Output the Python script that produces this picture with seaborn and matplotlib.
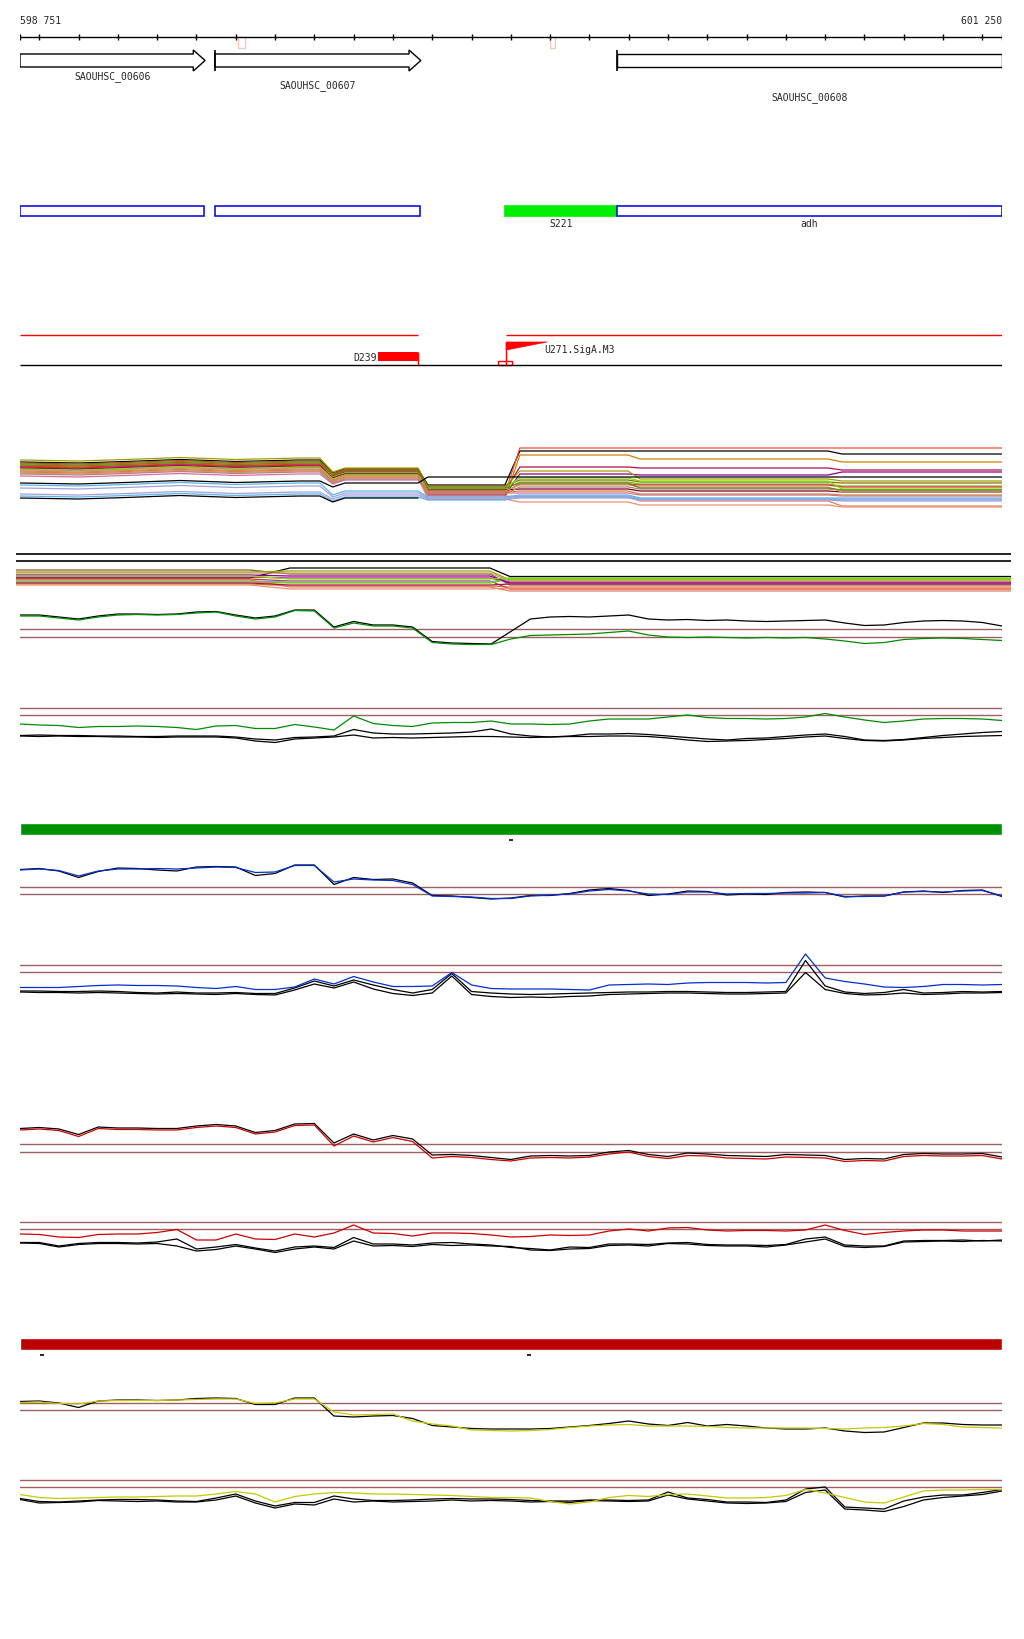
import numpy as np
import pandas as pd
import matplotlib
matplotlib.use('Agg')
import matplotlib.pyplot as plt
from matplotlib.patches import Polygon, Rectangle
import seaborn as sns

sns.set_style('white')
plt.rcParams['font.family'] = ['DejaVu Sans Mono']

W, H = 1024, 1640
START, END = 598751, 601250

# probe grid (every 50 bp)
grid_bp = [START] + list(range(598800, 601250, 50)) + [END]

# genes
gene_names = ['SAOUHSC_00606', 'SAOUHSC_00607', 'SAOUHSC_00608']
gene_start = [598751, 599247, 600270]
gene_end = [599222, 599771, 601250]
gene_arrow = [True, True, False]
gene_bar = [False, True, True]
gene_label_y = [76.5, 85.5, 98]

# annotation boxes
annot_names = ['', '', 'S221', 'adh']
annot_start = [598751, 599247, 599986, 600269]
annot_end = [599219, 599769, 600269, 601250]
annot_fill = ['white', 'white', '#00ee00', 'white']
annot_edge = ['#1010e0', '#1010e0', '#00ee00', '#1010e0']

# small markers on the ruler
marker_start = [599306, 600100]
marker_end = [599324, 600112]

# TSS / promoter track
tss_lines = [(598751, 599764), (599988, 601255)]
d239 = (599662, 599764)
u271 = (599988, 600092)

# ---- bundle 1 (many conditions) ----
b1_knots = [598751, 598900, 599020, 599158, 599300, 599463, 599514, 599547, 599578, 599764, 599789,
            599985, 600023, 600298, 600329, 600807, 600843, 601250]
b1_wiggle = [0.0, -0.2, 0.1, 0.5, 0.1, 0.4, 0.4, -0.8, 0.0, 0.0, 0.0, 0.0, 0.0, 0.0, 0.0, 0.0, 0.0, 0.0]
b1_colors = ['black', '#f05030', '#d08000', '#b0104a', '#900090', '#a0a000',
             '#66cc00', '#8b6914', '#e03030', '#e08060', '#f09070', '#5ab4e8',
             '#a0a0e0', '#5ab4e8', '#a0a0e0', '#d070a0', '#800020', '#b08080',
             '#80e000', '#c0a060', '#708020', '#cd853f', 'black', 'black']
# levels: left, mid, low, right1, right2, right3
b1_levels = [
    [10.4, 9.0, 5.8, 12.6, 12.6, 12.0],
    [10.0, 8.8, 4.0, 13.2, 13.2, 13.2],
    [9.6, 8.6, 3.0, 11.8, 11.0, 10.4],
    [9.4, 8.4, 4.6, 9.4, 9.2, 8.8],
    [9.2, 8.0, 3.8, 8.0, 7.8, 8.4],
    [10.8, 9.2, 5.4, 8.6, 7.0, 6.6],
    [9.8, 8.2, 5.0, 6.4, 6.0, 5.6],
    [10.2, 8.9, 5.6, 6.8, 6.4, 6.2],
    [9.5, 8.7, 4.4, 6.0, 5.8, 5.4],
    [8.6, 7.6, 3.6, 3.4, 2.6, 1.6],
    [8.2, 7.2, 3.0, 2.4, 1.8, 1.4],
    [5.8, 4.6, 3.4, 3.8, 3.2, 3.2],
    [5.2, 4.2, 3.2, 3.6, 3.0, 3.0],
    [3.6, 3.4, 2.8, 3.4, 3.0, 2.8],
    [4.0, 3.8, 3.0, 3.2, 2.8, 2.6],
    [7.6, 6.8, 4.2, 4.2, 3.8, 3.6],
    [9.0, 8.0, 4.8, 5.0, 4.6, 4.4],
    [8.0, 7.0, 4.0, 5.4, 5.0, 4.8],
    [9.0, 7.8, 5.2, 7.2, 6.6, 5.0],
    [8.8, 7.8, 4.6, 5.8, 5.4, 4.4],
    [9.8, 8.6, 5.2, 6.2, 5.2, 4.8],
    [8.4, 7.4, 4.4, 4.6, 4.0, 3.8],
    [6.2, 6.2, 7.4, 7.4, 7.4, 7.4],
    [3.2, 3.2, np.nan, np.nan, np.nan, np.nan],
]

# ---- bundle 2 ----
b2_knots = [598741, 599260, 599336, 599438, 599540, 599769, 599947, 599998, 601273]
b2_colors = ['#8b5a2b', 'black', '#a0a000', '#cd853f', '#e03030', '#c000a0',
             '#5ab4e8', '#66cc00', '#e08060', '#900090', '#80e000', '#c0a060',
             '#b0104a', '#f09070']
b2_levels = [
    [5.8, 5.0, 2.8], [4.2, 6.2, 4.5], [5.4, 5.6, 3.8], [3.0, 2.6, 2.4],
    [4.0, 3.6, 2.0], [4.4, 4.2, 3.4], [3.6, 3.4, 4.2], [3.4, 3.2, 4.0],
    [3.8, 2.4, 1.6], [4.8, 4.6, 3.2], [4.6, 4.0, 4.2], [5.2, 5.2, 3.6],
    [3.2, 2.8, 3.0], [2.8, 2.0, 2.2],
]
b2_black_lines = [9.0, 7.6]

# ---- profile tracks ----
t4_black = [6.8, 6.8, 6.4, 6.0, 6.6, 7.0, 7.0, 6.9, 7.0, 7.4, 7.5, 6.8, 6.2, 6.6, 7.8, 7.8, 4.4, 5.5, 4.8, 4.8,
            4.4, 1.5, 1.2, 1.1, 1.0, 3.5, 6.0, 6.4, 6.5, 6.4, 6.6, 6.8, 6.0, 5.8, 5.9, 5.7, 5.8, 5.6, 5.5, 5.6,
            5.7, 5.8, 5.2, 4.7, 4.8, 5.3, 5.6, 5.7, 5.6, 5.3, 4.6]
t4_green = [6.6, 6.6, 6.2, 5.8, 6.4, 6.8, 6.9, 6.8, 6.9, 7.2, 7.4, 6.6, 6.0, 6.4, 7.7, 7.6, 4.2, 5.2, 4.6, 4.6,
            4.2, 1.3, 1.0, 0.9, 0.9, 2.0, 2.7, 2.8, 2.9, 3.0, 3.3, 3.6, 2.8, 2.4, 2.3, 2.4, 2.3, 2.2, 2.3, 2.2,
            2.3, 2.0, 1.6, 1.1, 1.3, 1.9, 2.1, 2.2, 2.1, 1.9, 1.7]
t4_thresh = [4.0, 2.5]

t5_green = [5.0, 4.8, 4.7, 4.3, 4.5, 4.5, 4.6, 4.5, 4.3, 3.9, 4.6, 4.7, 4.1, 4.1, 4.9, 4.4, 3.8, 6.6, 5.1, 4.7,
            4.5, 5.2, 5.3, 5.3, 5.6, 5.0, 5.0, 4.9, 5.0, 5.6, 6.0, 6.0, 6.0, 6.4, 6.8, 6.3, 6.1, 6.1, 6.0, 6.1,
            6.4, 7.1, 6.4, 5.8, 5.3, 5.6, 6.0, 6.1, 6.1, 6.0, 5.7]
t5_black_a = [2.7, 2.8, 2.7, 2.7, 2.6, 2.6, 2.5, 2.5, 2.6, 2.6, 2.6, 2.4, 2.0, 1.8, 2.3, 2.4, 2.6, 3.9, 3.2, 3.0,
              3.0, 3.1, 3.2, 3.4, 4.0, 3.0, 2.6, 2.4, 2.6, 3.0, 3.0, 3.1, 2.9, 2.6, 2.3, 2.0, 1.8, 2.1, 2.2, 2.5,
              2.8, 3.0, 2.5, 1.8, 1.7, 1.9, 2.3, 2.7, 3.0, 3.3, 3.5]
t5_black_b = [2.6, 2.5, 2.6, 2.5, 2.5, 2.4, 2.4, 2.3, 2.4, 2.4, 2.4, 2.2, 1.6, 1.3, 2.0, 2.2, 2.4, 2.8, 2.2, 2.3,
              2.2, 2.3, 2.4, 2.5, 2.5, 2.4, 2.3, 2.4, 2.5, 2.5, 2.6, 2.6, 2.5, 2.2, 1.8, 1.5, 1.6, 1.7, 1.9, 2.1,
              2.4, 2.6, 2.1, 1.7, 1.6, 1.8, 2.1, 2.3, 2.5, 2.6, 2.7]
t5_thresh = [8.3, 6.9]

t7_blue = [6.8, 7.0, 6.7, 5.6, 6.6, 7.0, 7.0, 7.1, 7.0, 7.2, 7.4, 7.3, 6.3, 6.4, 7.7, 7.7, 4.4, 5.0, 4.8, 4.7,
           3.9, 1.6, 1.5, 1.4, 1.1, 1.1, 1.6, 1.8, 2.0, 2.6, 2.9, 2.6, 2.0, 1.9, 2.4, 2.4, 2.0, 2.1, 2.1, 2.2,
           2.2, 2.3, 1.5, 1.5, 1.6, 2.4, 2.5, 2.4, 2.6, 2.7, 1.6]
t7_black = [6.9, 7.1, 6.6, 5.3, 6.5, 7.2, 7.1, 6.8, 6.6, 7.4, 7.5, 7.4, 5.7, 6.1, 7.8, 7.8, 3.9, 5.3, 4.9, 5.0,
            4.2, 1.7, 1.6, 1.3, 1.0, 1.2, 1.7, 1.7, 2.1, 2.8, 3.1, 2.7, 1.7, 2.0, 2.6, 2.5, 1.8, 2.0, 1.9, 2.3,
            2.4, 2.3, 1.4, 1.6, 1.6, 2.4, 2.6, 2.3, 2.7, 2.8, 1.5]
t7_thresh = [3.4, 2.0]

t8_blue = [2.3, 2.3, 2.3, 2.5, 2.7, 2.8, 2.7, 2.7, 2.6, 2.3, 2.1, 2.5, 1.9, 1.9, 2.4, 4.0, 3.0, 4.5, 3.4, 2.5,
           2.5, 2.6, 5.3, 2.8, 2.1, 2.0, 2.0, 2.0, 1.9, 1.8, 2.8, 2.9, 3.0, 2.9, 3.2, 3.3, 3.3, 3.3, 3.2, 3.3,
           9.0, 4.2, 3.5, 3.0, 2.4, 2.3, 2.5, 2.9, 2.9, 2.8, 2.9]
t8_black_a = [1.6, 1.6, 1.5, 1.5, 1.6, 1.5, 1.3, 1.2, 1.4, 1.2, 1.2, 1.3, 1.1, 1.1, 2.2, 3.6, 2.6, 3.8, 2.8, 1.9,
              1.2, 1.9, 5.1, 1.5, 1.2, 1.0, 0.9, 1.0, 1.1, 1.2, 1.3, 1.4, 1.4, 1.5, 1.5, 1.4, 1.3, 1.3, 1.4, 1.5,
              7.7, 2.6, 1.4, 1.1, 1.3, 1.9, 1.2, 1.3, 1.5, 1.4, 1.5]
t8_black_b = [1.4, 1.3, 1.3, 1.2, 1.3, 1.2, 1.1, 1.0, 1.1, 1.0, 0.9, 1.1, 0.9, 0.8, 1.8, 3.0, 2.2, 3.4, 2.0, 1.1,
              0.7, 1.2, 4.6, 0.9, 0.5, 0.3, 0.4, 0.3, 0.5, 0.6, 0.9, 1.0, 1.1, 1.2, 1.2, 1.1, 1.0, 1.0, 1.1, 1.2,
              5.3, 1.9, 1.1, 0.8, 0.9, 1.2, 0.9, 1.0, 1.2, 1.2, 1.3]
t8_thresh = [6.9, 5.5]

t9_black = [7.1, 7.3, 7.0, 5.9, 7.4, 7.2, 7.2, 7.1, 7.1, 7.6, 7.9, 7.6, 6.3, 6.7, 8.0, 8.1, 4.2, 6.0, 4.8, 5.7,
            5.0, 1.8, 1.9, 1.7, 1.3, 0.9, 1.6, 1.7, 1.6, 1.7, 2.4, 2.7, 1.9, 1.5, 2.2, 2.0, 1.7, 1.6, 1.5, 1.9,
            1.8, 1.7, 0.9, 1.1, 1.0, 1.9, 2.1, 2.0, 2.0, 2.1, 1.4]
t9_red = [6.8, 7.0, 6.7, 5.5, 7.1, 6.9, 6.9, 6.8, 6.8, 7.3, 7.6, 7.3, 6.0, 6.4, 7.7, 7.8, 3.6, 5.6, 4.4, 5.3,
          4.5, 1.2, 1.5, 1.3, 0.9, 0.6, 1.2, 1.3, 1.2, 1.4, 2.0, 2.4, 1.5, 1.1, 1.7, 1.6, 1.2, 1.1, 1.0, 1.4,
          1.3, 1.2, 0.5, 0.7, 0.6, 1.5, 1.7, 1.6, 1.6, 1.7, 1.0]
t9_thresh = [4.0, 2.5]

t10_red = [6.0, 5.9, 5.4, 5.3, 5.9, 6.0, 6.0, 6.3, 6.9, 4.8, 4.8, 6.0, 5.0, 4.9, 6.0, 5.4, 6.2, 7.8, 6.2, 6.1,
           5.6, 6.2, 6.2, 6.1, 5.8, 5.4, 5.5, 5.8, 5.7, 5.8, 6.6, 7.0, 6.6, 7.2, 7.3, 6.8, 6.6, 6.7, 6.7, 6.6,
           6.8, 7.8, 6.7, 5.9, 6.3, 6.6, 6.8, 6.8, 6.6, 6.6, 6.6]
t10_black_a = [4.3, 4.3, 3.6, 4.1, 4.3, 4.3, 4.2, 4.4, 5.0, 3.0, 3.4, 3.9, 3.2, 2.6, 3.4, 3.6, 3.3, 5.3, 4.0, 4.0,
               3.8, 4.2, 4.3, 4.0, 3.8, 3.3, 3.1, 2.8, 3.4, 3.3, 4.0, 4.0, 3.9, 4.2, 4.3, 3.9, 3.8, 3.8, 3.7, 3.9,
               5.0, 5.4, 3.8, 3.6, 3.6, 4.6, 4.7, 4.7, 4.8, 4.6, 4.8]
t10_black_b = [4.2, 4.1, 3.4, 3.9, 4.1, 4.1, 4.0, 4.1, 3.6, 2.6, 2.9, 3.6, 3.0, 2.3, 3.0, 3.4, 3.0, 4.6, 3.6, 3.7,
               3.5, 3.9, 3.7, 3.8, 3.6, 3.5, 2.8, 2.7, 3.0, 3.1, 3.7, 3.8, 3.6, 4.1, 4.0, 3.7, 3.6, 3.6, 3.4, 3.8,
               4.4, 5.0, 3.5, 3.3, 3.5, 4.4, 4.5, 4.6, 4.5, 4.7, 4.6]
t10_thresh = [8.5, 7.1]

t12_black = [7.5, 7.6, 7.2, 6.3, 7.6, 7.8, 7.8, 7.7, 7.8, 8.1, 8.2, 8.1, 6.9, 6.9, 8.2, 8.2, 4.6, 4.4, 4.6, 4.7,
             4.1, 2.7, 2.4, 2.1, 2.0, 2.0, 2.0, 2.1, 2.4, 2.7, 3.1, 3.6, 3.0, 2.7, 3.3, 2.6, 2.9, 2.6, 2.2, 2.0,
             2.0, 2.2, 1.6, 1.3, 1.4, 2.3, 3.2, 3.2, 2.9, 2.8, 2.8]
t12_yellow = [7.3, 7.4, 7.1, 7.0, 7.6, 7.7, 7.7, 7.7, 7.8, 7.9, 8.0, 8.0, 7.1, 7.2, 8.0, 8.0, 5.4, 4.8, 4.9, 5.0,
              3.6, 3.0, 2.6, 1.8, 1.7, 1.6, 1.7, 1.9, 2.3, 2.6, 2.8, 2.9, 2.6, 2.6, 2.6, 2.5, 2.3, 2.2, 2.2, 2.2,
              2.2, 2.1, 2.0, 2.2, 2.3, 2.6, 3.1, 2.9, 2.4, 2.3, 2.2]
t12_thresh = [7.3, 5.9]

t13_yellow = [4.9, 4.3, 4.1, 4.2, 4.3, 4.4, 4.4, 4.5, 4.6, 4.6, 5.0, 5.5, 5.0, 3.4, 4.5, 5.0, 5.3, 5.2, 5.0, 5.0,
              4.9, 4.8, 4.7, 4.5, 4.3, 4.3, 4.2, 3.5, 3.0, 3.4, 4.3, 4.7, 4.5, 4.9, 5.0, 4.6, 4.2, 4.2, 4.3, 4.7,
              5.9, 5.2, 4.3, 3.4, 3.2, 4.4, 5.6, 5.8, 5.8, 5.9, 5.9]
t13_black_a = [4.1, 3.5, 3.4, 3.6, 3.8, 3.9, 3.9, 3.8, 3.6, 3.5, 4.2, 5.0, 3.6, 2.6, 3.3, 3.3, 4.6, 4.0, 3.7, 3.7,
               3.8, 4.0, 4.1, 4.0, 4.0, 3.9, 3.7, 3.6, 3.6, 3.8, 3.8, 3.7, 3.8, 5.4, 4.2, 3.9, 3.4, 3.4, 3.3, 3.8,
               6.0, 6.4, 2.4, 2.2, 2.0, 3.6, 4.4, 4.8, 4.8, 5.3, 5.9]
t13_black_b = [3.9, 3.2, 3.3, 3.4, 3.7, 3.6, 3.5, 3.6, 3.4, 3.4, 3.8, 4.6, 3.2, 2.2, 3.0, 2.8, 4.0, 3.4, 3.6, 3.4,
               3.5, 3.6, 3.8, 3.6, 3.7, 3.6, 3.4, 3.5, 3.3, 3.7, 3.6, 3.5, 3.6, 4.8, 4.0, 3.6, 3.2, 3.1, 3.2, 3.5,
               5.3, 5.8, 2.0, 1.8, 1.5, 2.5, 3.8, 4.3, 4.6, 4.9, 5.6]
t13_thresh = [7.9, 6.5]

# bars with small dash marks underneath
green_bar_marks = [600000]
red_bar_marks = [598807, 600046]

THRESH_COLOR = '#9c6060'
FONT = 7
LW = 0.9

fig = plt.figure(figsize=(W / 100, H / 100), dpi=100)


def add_track(top, bottom, left=20, right=1002, xlim=(START, END)):
    ax = fig.add_axes([left / W, 1 - bottom / H, (right - left) / W, (bottom - top) / H])
    ax.set_xlim(*xlim)
    return ax


def finish(ax, ylim):
    ax.set_ylim(*ylim)
    ax.set_xlabel('')
    ax.set_ylabel('')
    ax.set_axis_off()


# ---- features panel (ruler, genes, annotations, promoters) ----
ax = add_track(0, 380)
ax.set_ylim(380, 0)
ax.set_axis_off()
ax.text(START, 20.5, f'{START:,}'.replace(',', ' '), fontsize=FONT, ha='left', va='center')
ax.text(END, 20.5, f'{END:,}'.replace(',', ' '), fontsize=FONT, ha='right', va='center')
ax.hlines(38, START, END, color='black', lw=1)
ticks = [START] + list(range(598800, END, 100)) + [END]
ax.vlines(ticks, 35, 41, color='black', lw=1)
for s, e in zip(marker_start, marker_end):
    ax.add_patch(Rectangle((s, 38), e - s, 11, fill=False, ec='#f6c8b8', lw=1))

for name, s, e, arr, bar, ly in zip(gene_names, gene_start, gene_end, gene_arrow, gene_bar, gene_label_y):
    if arr:
        body = e - 30
        pts = [(s, 55), (body, 55), (body, 51), (e, 61.5), (body, 72), (body, 68), (s, 68)]
    else:
        pts = [(s, 55), (e, 55), (e, 68), (s, 68)]
    ax.add_patch(Polygon(pts, closed=True, fc='white', ec='black', lw=1))
    if bar:
        ax.vlines(s, 51, 72, color='black', lw=1.2)
    ax.text((s + e) / 2, ly, name, fontsize=FONT, ha='center', va='center')

for name, s, e, fc, ec in zip(annot_names, annot_start, annot_end, annot_fill, annot_edge):
    ax.add_patch(Rectangle((s, 207), e - s, 10, fc=fc, ec=ec, lw=1.2))
    if name:
        ax.text((s + e) / 2, 224, name, fontsize=FONT, ha='center', va='center')

for s, e in tss_lines:
    ax.hlines(336, s, e, color='red', lw=1)
ax.hlines(366, START, 601255, color='black', lw=1)
ax.add_patch(Rectangle((d239[0], 353), d239[1] - d239[0], 9, fc='red', ec='red', lw=0))
ax.vlines(d239[1], 353, 366, color='red', lw=1)
ax.text(d239[0] - 2, 358, 'D239', fontsize=FONT, ha='right', va='center')
ax.vlines(u271[0], 343, 366, color='red', lw=1)
ax.add_patch(Polygon([(u271[0], 343), (u271[1], 343), (u271[0], 351)], closed=True, fc='red', ec='red', lw=0.5))
ax.add_patch(Rectangle((599967, 362), 36, 4, fill=False, ec='red', lw=1))
ax.text(u271[1] - 8, 350, 'U271.SigA.M3', fontsize=FONT, ha='left', va='center')

# ---- bundle 1 ----
rows = []
for i, lv in enumerate(b1_levels):
    L, M, D, R1, R2, R3 = lv
    base = [L, L, L, L, L, L, L, M, M, M, D, D, R1, R1, R2, R2, R3, R3]
    for x, v, w in zip(b1_knots, base, b1_wiggle):
        rows.append({'bp': x, 'v': v + w, 'line': f'c{i}'})
df1 = pd.DataFrame(rows)
ax = add_track(440, 515)
sns.lineplot(data=df1, x='bp', y='v', hue='line', palette={f'c{i}': c for i, c in enumerate(b1_colors)},
             estimator=None, legend=False, lw=LW, ax=ax)
finish(ax, (0, 15))

# ---- bundle 2 ----
rows = []
for i, lv in enumerate(b2_levels):
    a, b, cc = lv
    vals = [a, a, a, b, b, b, b, cc, cc]
    for x, v in zip(b2_knots, vals):
        rows.append({'bp': x, 'v': v, 'line': f'c{i}'})
df2 = pd.DataFrame(rows)
ax = add_track(550, 600, left=16, right=1011, xlim=(598741, 601273))
sns.lineplot(data=df2, x='bp', y='v', hue='line', palette={f'c{i}': c for i, c in enumerate(b2_colors)},
             estimator=None, legend=False, lw=LW, ax=ax)
for yv in b2_black_lines:
    ax.axhline(yv, color='black', lw=1.2)
finish(ax, (0, 10))


def profile_track(top, bottom, series, thresh):
    ax = add_track(top, bottom)
    for t in thresh:
        ax.axhline(t, color=THRESH_COLOR, lw=1)
    for vals, c in series:
        sns.lineplot(x=grid_bp, y=vals, color=c, lw=LW, ax=ax)
    finish(ax, (0, 10))


GREEN, BLUE, RED, YELLOW = '#008c00', '#0030d0', '#cc0000', '#c8c800'

profile_track(600, 650, [(t4_black, 'black'), (t4_green, GREEN)], t4_thresh)
profile_track(700, 750, [(t5_black_a, 'black'), (t5_black_b, 'black'), (t5_green, GREEN)], t5_thresh)


def bar_track(top, color, marks):
    ax = add_track(top, top + 20)
    ax.barh(y=[6], width=[END - START], left=[START], height=12, color=color)
    ax.hlines([16.7] * len(marks), [m - 5 for m in marks], [m + 5 for m in marks], color='black', lw=1.2)
    ax.set_ylim(20, 0)
    ax.set_axis_off()


bar_track(824, '#009000', green_bar_marks)
profile_track(855, 905, [(t7_black, 'black'), (t7_blue, BLUE)], t7_thresh)
profile_track(950, 1000, [(t8_black_a, 'black'), (t8_black_b, 'black'), (t8_blue, BLUE)], t8_thresh)
profile_track(1115, 1165, [(t9_black, 'black'), (t9_red, RED)], t9_thresh)
profile_track(1215, 1265, [(t10_black_a, 'black'), (t10_black_b, 'black'), (t10_red, RED)], t10_thresh)
bar_track(1339, '#bb0000', red_bar_marks)
profile_track(1390, 1440, [(t12_black, 'black'), (t12_yellow, YELLOW)], t12_thresh)
profile_track(1470, 1520, [(t13_black_a, 'black'), (t13_black_b, 'black'), (t13_yellow, YELLOW)], t13_thresh)

fig.savefig('out.png', dpi=100, facecolor='white')
